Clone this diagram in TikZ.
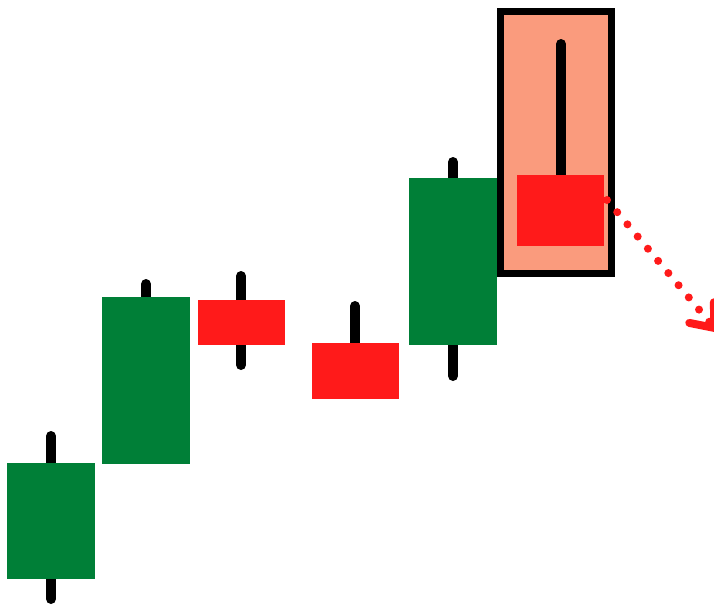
\documentclass[tikz,border=0pt]{standalone}
\usetikzlibrary{arrows.meta}

\definecolor{bullgreen}{RGB}{0,127,55}
\definecolor{bearred}{RGB}{255,26,26}
\definecolor{salmon}{RGB}{250,155,125}

\begin{document}
\begin{tikzpicture}[x=1pt,y=-1pt,
    wick/.style={line width=10pt,line cap=round,black},
    body/.style={rectangle,inner sep=0pt,draw=none},
    green body/.style={body,fill=bullgreen},
    red body/.style={body,fill=bearred},
    highlight/.style={rectangle,inner sep=0pt,draw=black,line width=7pt,fill=salmon},
    trend/.style={bearred,line width=8pt,line cap=round,dash pattern=on 0pt off 15.9pt,
      -{Straight Barb[length=20pt,width=32pt,round]}}]
    \useasboundingbox (0,0) rectangle (714,606);
    % highlighted candle
    \node[highlight,minimum width=111pt,minimum height=262pt] (hl) at (556,142.5) {};
    % wicks
    \draw[wick] (51,436) -- (51,599);
    \draw[wick] (146,284) -- (146,380);
    \draw[wick] (241,276) -- (241,365);
    \draw[wick] (355,306) -- (355,371);
    \draw[wick] (453,162) -- (453,376);
    \draw[wick] (561,44) -- (561,210);
    % bodies
    \node[green body,minimum width=88pt,minimum height=116pt] (c1) at (51,521) {};
    \node[green body,minimum width=88pt,minimum height=167pt] (c2) at (146,380.5) {};
    \node[red body,minimum width=87pt,minimum height=45pt] (c3) at (241.5,322.5) {};
    \node[red body,minimum width=87pt,minimum height=56pt] (c4) at (355.5,371) {};
    \node[green body,minimum width=88pt,minimum height=167pt] (c5) at (453,261.5) {};
    \node[red body,minimum width=87pt,minimum height=71pt] (c6) at (560.5,210.5) {};
    % trend arrow
    \coordinate (tail) at (607,200);
    \coordinate (head) at (717,331);
    \draw[trend] (tail) -- (head);
\end{tikzpicture}
\end{document}
